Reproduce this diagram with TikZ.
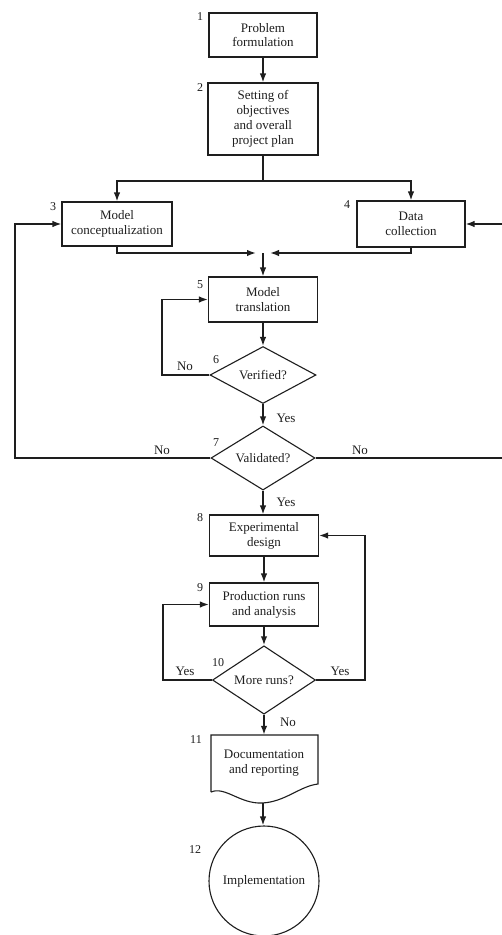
\documentclass[tikz,border=0pt]{standalone}
\usepackage{fontspec}
\setmainfont{Liberation Serif}
\usetikzlibrary{shapes.geometric,arrows.meta}
\definecolor{ink}{HTML}{1E1E1E}
\begin{document}
\begin{tikzpicture}[x=1pt,y=-1pt,
  every node/.style={font=\fontsize{13}{14.8}\selectfont, text=ink},
  stepbox/.style={draw=ink, line width=1.1pt, fill=white, align=center,
    inner sep=0pt, minimum width=109pt, minimum height=44pt},
  decision/.style={diamond, draw=ink, line width=1.1pt, fill=white, align=center,
    inner sep=0pt, minimum width=106pt, minimum height=56pt},
  outline/.style={draw=ink, line width=1.1pt},
  link/.style={draw=ink, line width=1.6pt},
  arr/.style={link, -{Latex[length=9pt,width=6.5pt]}},
  num/.style={font=\fontsize{12}{14}\selectfont}
]
\useasboundingbox (0,0) rectangle (502,935);
\fill[white] (0,0) rectangle (502,935);

% process steps
\node[stepbox, minimum width=108pt] (b1) at (263,35) {Problem\\formulation};
\node[stepbox, minimum width=110pt, minimum height=72pt] (b2) at (263,119) {Setting of\\objectives\\and overall\\project plan};
\node[stepbox, minimum width=110pt] (b3) at (117,224) {Model\\conceptualization};
\node[stepbox, minimum width=108pt, minimum height=46pt] (b4) at (411,224) {Data\\collection};
\node[stepbox, minimum height=45pt] (b5) at (263,299.5) {Model\\translation};
\node[decision] (d6) at (263,375) {Verified?};
\node[decision, minimum width=104pt, minimum height=52pt] (d7) at (263,458) {Validated?};
\node[stepbox, minimum height=41pt] (b8) at (264,535.5) {Experimental\\design};
\node[stepbox, minimum height=43pt] (b9) at (264,604.5) {Production runs\\and analysis};
\node[decision, minimum width=103pt, minimum height=54pt] (d10) at (264,680) {More runs?};

% document symbol
\draw[outline] (211,792) -- (211,735) -- (318,735) -- (318,784)
  .. controls (300,786) and (285,802) .. (262,803)
  .. controls (240,804) and (225,786) .. (211,792);
\node[align=center, inner sep=0pt, minimum width=107pt, minimum height=56pt] (b11) at (264,763) {Documentation\\and reporting};
\coordinate (b11w) at (263,803);

\node[circle, draw=ink, line width=1.1pt, minimum size=110pt, inner sep=0pt] (c12) at (264,881) {Implementation};

% step numbers
\node[num] (n1) at (200,17) {1};
\node[num] (n2) at (200,88) {2};
\node[num] (n3) at (53,207) {3};
\node[num] (n4) at (347,205) {4};
\node[num] (n5) at (200,285) {5};
\node[num] (n6) at (216,360) {6};
\node[num] (n7) at (216,443) {7};
\node[num] (n8) at (200,518) {8};
\node[num] (n9) at (200,588) {9};
\node[num] (n10) at (218,663) {10};
\node[num] (n11) at (196,740) {11};
\node[num] (n12) at (195,850) {12};

% flow
\draw[arr] (b1.south) -- (b2.north);
\coordinate (split) at (263,181);
\draw[link] (b2.south) -- (split);
\draw[arr] (split) -| (b3.north);
\draw[arr] (split) -| (b4.north);

\coordinate (merge) at (263,253);
\draw[arr, shorten >=7pt] (b3.south) |- (merge);
\draw[arr, shorten >=7pt] (b4.south) |- (merge);
\draw[arr] (merge) -- (b5.north);

\draw[arr] (b5.south) -- (d6.north);
\coordinate (c6) at (162,375);
\draw[arr] (d6.west) -- (c6) |- (b5.west);
\node (no6) at (185,366) {No};

\draw[arr] (d6.south) -- (d7.north);
\node (yes6) at (286,418) {Yes};

\coordinate (c7l) at (15,458);
\draw[arr] (d7.west) -- (c7l) |- (b3.west);
\node (no7l) at (162,450) {No};
\coordinate (c7r) at (506,458);
\draw[arr] (d7.east) -- (c7r) |- (b4.east);
\node (no7r) at (360,450) {No};

\draw[arr] (d7.south) -- (d7.south |- b8.north);
\node (yes7) at (286,502) {Yes};

\draw[arr] (b8.south) -- (b9.north);
\draw[arr] (b9.south) -- (d10.north);
\coordinate (c10l) at (163,680);
\draw[arr] (d10.west) -- (c10l) |- (b9.west);
\node (yes10l) at (185,671) {Yes};
\coordinate (c10r) at (365,680);
\draw[arr] (d10.east) -- (c10r) |- (b8.east);
\node (yes10r) at (340,671) {Yes};

\draw[arr] (d10.south) -- (d10.south |- b11.north);
\node (no10) at (288,722) {No};

\draw[arr] (b11w) -- (b11w |- c12.north);
\end{tikzpicture}
\end{document}
